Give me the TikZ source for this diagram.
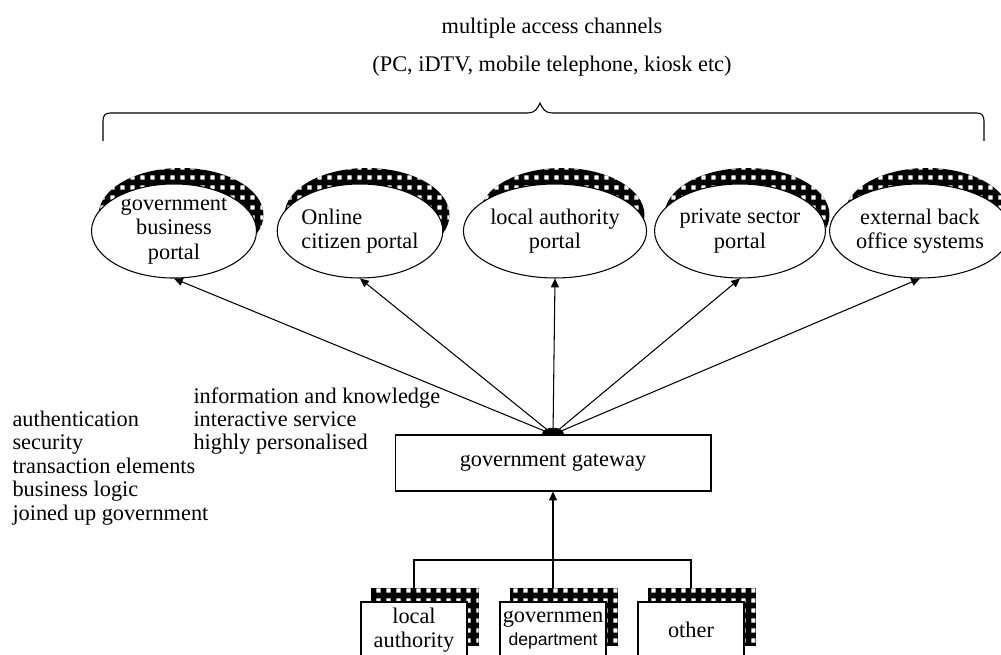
\documentclass[tikz,border=0pt]{standalone}
\usepackage{fontspec}
\setmainfont{Liberation Serif}
\setsansfont{Liberation Sans}
\usetikzlibrary{shapes.geometric,arrows.meta,patterns.meta,backgrounds}

\tikzdeclarepattern{
  name=whitesquares,
  type=uncolored,
  bottom left={(0pt,0pt)},
  top right={(5.6pt,5.6pt)},
  tile size={(5.6pt,5.6pt)},
  code={\fill (1.4pt,1.4pt) rectangle (3.8pt,3.8pt);}
}

\begin{document}
\begin{tikzpicture}[x=0.02cm, y=-0.02cm, line width=0.6pt, >={Triangle[length=5pt,width=4.5pt]},
every node/.append style={font=\fontsize{12.7}{13.3}\selectfont},
portal node/.style={ellipse,draw,fill=white,minimum width=3.3cm,minimum height=1.88cm,inner sep=0pt,align=center,font=\fontsize{12.7}{14}\selectfont},
box node/.style={rectangle,draw,fill=white,minimum width=2.12cm,minimum height=1.12cm,inner sep=0pt,align=center},
gate node/.style={rectangle,draw,fill=white,minimum width=6.32cm,minimum height=1.12cm},
note/.style={align=left,inner sep=0pt},
dotshadow/.style={fill=black,postaction={pattern=whitesquares,pattern color=white}}]
\useasboundingbox (0,0) rectangle (1001,655);
% heading and brace
\node (mac) at (552,28) {multiple access channels};
\node (chn) at (552,66) {(PC, iDTV, mobile telephone, kiosk etc)};
\draw (103,141) -- (103,121) .. controls (103,116) and (105,113) .. (110,113) -- (528,113)
  .. controls (535,113) and (538,108) .. (540,103) .. controls (542,108) and (545,113) .. (552,113)
  -- (977,113) .. controls (982,113) and (984,116) .. (984,121) -- (984,141);
% portals
\node [portal node] (gbp) at (174,231) {government\\business\\portal};
\node [portal node,align=left] (ocp) at (360,231) {Online\\citizen portal};
\node [portal node] (lap) at (555,231) {local authority\\portal};
\node [portal node] (psp) at (740,231) {private sector\\portal};
\node [portal node] (ebo) at (920,231) {external back\\office systems};
% gateway and notes
\node [gate node] (gw) at (553,463) {government gateway};
\node [note,anchor=west] (feat) at (12,468) {authentication\\security\\transaction elements\\business logic\\joined up government};
\node [note,anchor=west] (serv) at (193,421) {information and knowledge\\interactive service\\highly personalised};
% suppliers
\node [box node] (la) at (414,630) {local\\authority};
\node [box node] (gd) at (553,630) {governmen\\{\sffamily\fontsize{10}{11}\selectfont department}};
\node [box node] (oth) at (691,630) {other};
\coordinate (junc) at (553,560);

\begin{scope}[on background layer]
\foreach \n in {gbp,ocp,lap,psp,ebo}
  \path [dotshadow] ([shift={(7,-16)}]\n.center) ellipse [x radius=1.65cm, y radius=0.94cm];
\foreach \n in {la,gd,oth}
  \path [dotshadow] ([shift={(11,-13)}]\n.south west) rectangle ([shift={(11,-13)}]\n.north east);
\end{scope}

\foreach \n in {gbp,ocp,lap,psp,ebo}
  \draw [->] (gw.north) -- (\n.south);
\fill ([xshift=-0.22cm]gw.north) .. controls ([shift={(-11,-9)}]gw.north) and ([shift={(11,-9)}]gw.north) .. ([xshift=0.22cm]gw.north) -- cycle;
\draw ([yshift=0.26cm]la.north) |- (junc) -| ([yshift=0.26cm]oth.north);
\draw [->] ([yshift=0.26cm]gd.north) -- (gw.south);
\end{tikzpicture}
\end{document}
